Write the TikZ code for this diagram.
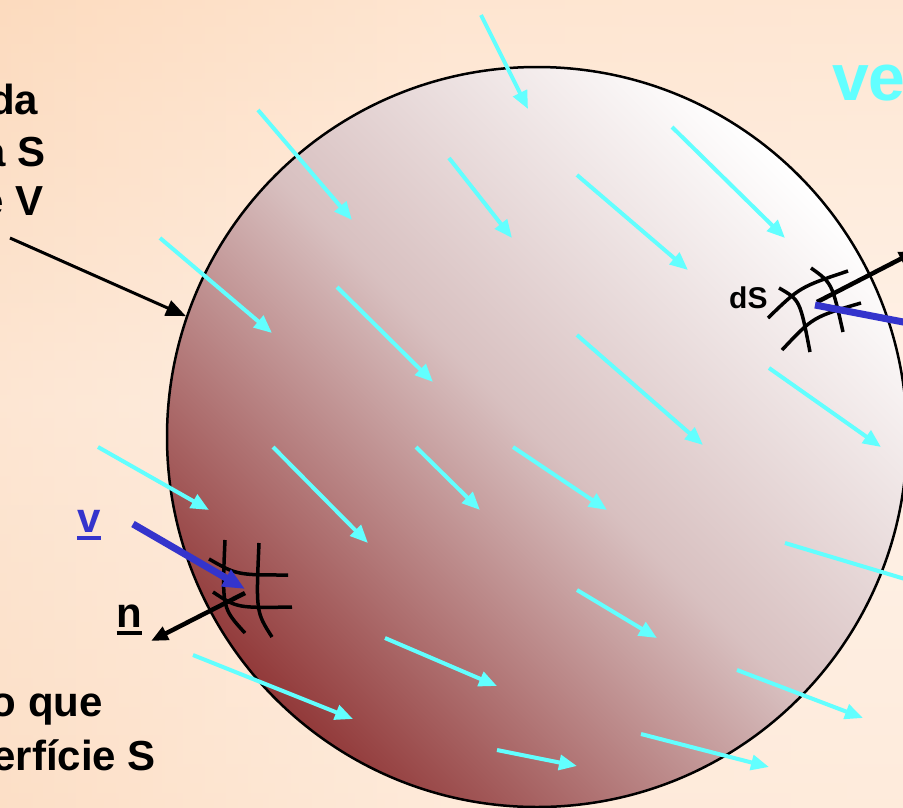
\documentclass[tikz,border=0pt]{standalone}
\usepackage{fontspec}
\setmainfont{Liberation Sans}
\usetikzlibrary{arrows.meta}
\definecolor{cyanarr}{HTML}{62FFFF}
\definecolor{vblue}{HTML}{3434CC}
\definecolor{bgtop}{HTML}{FDDABC}
\definecolor{bgmid}{HTML}{FFF1E6}
\definecolor{bgbot}{HTML}{FDE3CD}
\definecolor{bgleft}{HTML}{FCDCC1}
\definecolor{bgright}{HTML}{FFF3EA}
\definecolor{sphdark}{HTML}{923A3A}
\definecolor{sphmid}{HTML}{D8C0C0}
\definecolor{sphlight}{HTML}{FFFFFF}
\newcommand\ulbox[1]{\setbox0\hbox{#1}\leavevmode\rlap{\rule[-8pt]{\wd0}{4pt}}\box0}
\begin{document}
\begin{tikzpicture}[x=1pt,y=1pt,
  lbl/.style={inner sep=0pt, font=\bfseries\fontsize{42}{50}\selectfont},
  flow/.style={draw=cyanarr, line width=4pt, -{Triangle[length=18pt,width=15pt]}},
  pointer/.style={draw=black, line width=3pt, -{Triangle[length=20pt,width=16pt]}},
  vel/.style={draw=vblue, line width=7pt, -{Triangle[length=22pt,width=18pt]}},
  normal/.style={draw=black, line width=4.5pt, -{Triangle[length=17pt,width=14pt]}},
  grid/.style={draw=black, line width=3.5pt}]
\useasboundingbox (0,0) rectangle (903,-807);
\clip (0,0) rectangle (903,-807);
% background
\shade[top color=bgtop, bottom color=bgbot, middle color=bgmid] (0,0) rectangle (903,-807);
\shade[left color=bgleft, right color=bgright, middle color=bgmid, opacity=0.5] (0,0) rectangle (903,-807);
% sphere
\node[circle, minimum size=740pt, inner sep=0pt, draw=black, line width=2.5pt,
      top color=sphlight, bottom color=sphdark, middle color=sphmid, shading angle=-45]
      (sphere) at (537,-437) {};
% flow arrows
\foreach \i/\a/\b/\c/\d in {
  1/481/15/528/109, 2/258/110/352/220, 3/449/158/512/238, 4/672/127/785/238,
  5/577/175/688/270, 6/160/238/272/333, 7/337/287/433/382, 8/577/335/703/445,
  9/769/368/881/447, 10/98/447/209/510, 11/273/447/368/543, 12/416/447/480/510,
  13/513/447/607/510, 14/785/543/925/585, 15/577/590/657/638, 16/385/638/497/686,
  17/193/655/353/719, 18/737/670/863/718, 19/497/750/577/766, 20/641/734/769/767}{
  \coordinate (fs\i) at (\a,-\b);
  \coordinate (fe\i) at (\c,-\d);
  \draw[flow] (fs\i) -- (fe\i);
}
% left texts
\node[lbl, anchor=base east] (t1) at (38.5,-114) {da};
\node[lbl, anchor=base east] (t2) at (45.5,-166) {a S};
\node[lbl, anchor=base east] (t3) at (43.5,-215) {e V};
\node[lbl, anchor=base east] (b1) at (103,-716) {o que};
\node[lbl, anchor=base east] (b2) at (156,-770) {erfície S};
\node[inner sep=0pt, anchor=base west, text=cyanarr, font=\bfseries\fontsize{66}{70}\selectfont] (ve) at (832,-100) {ve};
% pointer to surface
\coordinate (ps) at (10,-238);
\draw[pointer] (ps) -- (sphere.161.4);
% left patch
\draw[grid] (225,-540) .. controls (222,-608) .. (245,-633);
\draw[grid] (259,-543) .. controls (256,-612) .. (272,-637);
\draw[grid] (209,-559) .. controls (237,-575) .. (288,-575);
\draw[grid] (213,-592) .. controls (237,-608) .. (292,-607);
\coordinate (vs) at (133,-524);
\coordinate (ve1) at (245,-589);
\draw[vel] (vs) -- (ve1);
\coordinate (ns) at (245,-593);
\coordinate (ne) at (151,-641);
\draw[normal] (ns) -- (ne);
\node[lbl, anchor=base, text=vblue] (vlab) at (89,-532) {\ulbox{v}};
\node[lbl, anchor=base] (nlab) at (129.5,-627) {\ulbox{n}};
% right patch
\draw[grid] (768,-318) .. controls (800,-287) .. (848,-271);
\draw[grid] (782,-350) .. controls (813,-317) .. (861,-303);
\draw[grid] (779,-288) .. controls (800,-300) .. (810,-352);
\draw[grid] (811,-268) .. controls (832,-283) .. (843,-332);
\coordinate (rs) at (817,-302);
\coordinate (re) at (916,-251);
\draw[normal] (rs) -- (re);
\coordinate (bs) at (815,-305);
\coordinate (be) at (950,-331);
\draw[vel] (bs) -- (be);
\node[inner sep=0pt, anchor=base west, font=\bfseries\fontsize{30}{34}\selectfont] (dS) at (729,-308) {dS};
\end{tikzpicture}
\end{document}
